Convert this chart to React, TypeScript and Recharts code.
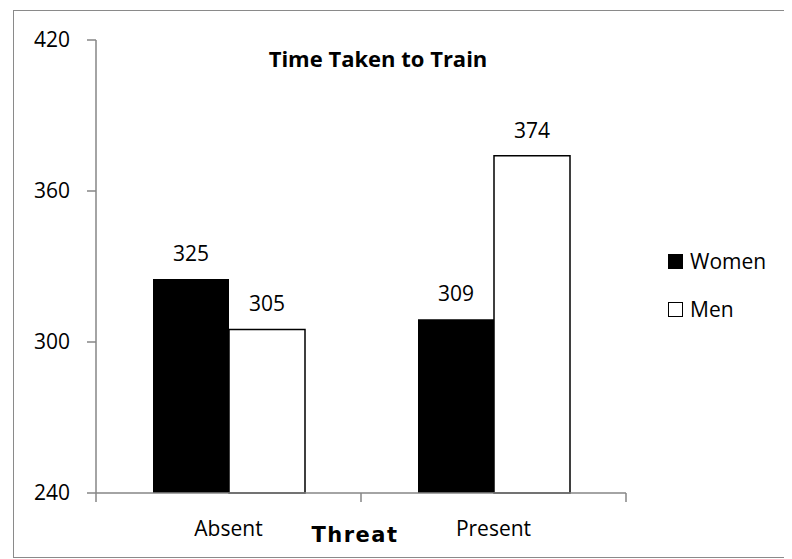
import React from 'react';
import { BarChart, Bar, XAxis, YAxis, LabelList } from 'recharts';

// Mean time taken to train, by threat condition
const categories = ['Absent', 'Present'];
const womenValues = [325, 309];
const menValues = [305, 374];
const seriesNames = ['Women', 'Men'];
const yTicks = [240, 300, 360, 420];
const chartTitle = 'Time Taken to Train';
const xAxisTitle = 'Threat';

const data = categories.map((c, i) => ({
  threat: c,
  Women: womenValues[i],
  Men: menValues[i],
}));

const FONT = '"Open Sans", "Noto Sans", sans-serif';
const AXIS_GREY = '#868686';

// Category labels centred in each band, with tick marks on band boundaries
function CategoryTick(props: any) {
  const { x, y, payload, index, visibleTicksCount } = props;
  const half = payload && payload.offset ? payload.offset : 132.5;
  return (
    <g>
      <line x1={x - half} y1={y} x2={x - half} y2={y + 9} stroke={AXIS_GREY} strokeWidth={1.5} />
      {index === visibleTicksCount - 1 && (
        <line x1={x + half} y1={y} x2={x + half} y2={y + 9} stroke={AXIS_GREY} strokeWidth={1.5} />
      )}
      <text x={x} y={y + 43} textAnchor="middle" fontFamily={FONT} fontSize={21} fill="#000">
        {payload.value}
      </text>
    </g>
  );
}

function LegendBox() {
  return (
    <div
      style={{
        position: 'absolute',
        left: 660,
        top: 229,
        fontFamily: FONT,
        fontSize: 21,
        color: '#000',
        lineHeight: '24px',
      }}
    >
      {seriesNames.map((name, i) => (
        <div key={name} style={{ display: 'flex', alignItems: 'center', height: 48 }}>
          <span
            style={{
              display: 'inline-block',
              width: 15,
              height: 15,
              boxSizing: 'border-box',
              background: i === 0 ? '#000' : '#fff',
              border: '1.5px solid #000',
              marginRight: 7,
            }}
          />
          <span>{name}</span>
        </div>
      ))}
    </div>
  );
}

export default function App() {
  return (
    <div style={{ position: 'relative', width: 784, height: 551, overflow: 'hidden', background: '#fff' }}>
      <div
        style={{
          position: 'absolute',
          left: 5,
          top: 2,
          width: 820,
          height: 548,
          boxSizing: 'border-box',
          border: '1px solid #8a8a8a',
        }}
      />
      <div style={{ position: 'absolute', left: 0, top: 0 }}>
        <BarChart
          width={784}
          height={551}
          data={data}
          margin={{ top: 32, right: 166, bottom: 0, left: 0 }}
          barGap={0}
        >
          <XAxis
            dataKey="threat"
            height={66}
            stroke={AXIS_GREY}
            strokeWidth={1.5}
            tickLine={false}
            tickSize={0}
            tickMargin={0}
            tick={<CategoryTick />}
            interval={0}
          />
          <YAxis
            width={88}
            domain={[240, 420]}
            ticks={yTicks}
            interval={0}
            stroke={AXIS_GREY}
            strokeWidth={1.5}
            tickSize={9}
            tickMargin={17}
            tick={{ fill: '#000', fontSize: 21, fontFamily: FONT }}
          />
          <Bar dataKey="Women" fill="#000" barSize={76} isAnimationActive={false}>
            <LabelList dataKey="Women" position="top" offset={18} fill="#000" fontFamily={FONT} fontSize={21} />
          </Bar>
          <Bar dataKey="Men" fill="#fff" stroke="#000" strokeWidth={1.5} barSize={76} isAnimationActive={false}>
            <LabelList dataKey="Men" position="top" offset={18} fill="#000" fontFamily={FONT} fontSize={21} />
          </Bar>
          <text x={370} y={59} textAnchor="middle" fontFamily={FONT} fontWeight="bold" fontSize={22} fill="#000">
            {chartTitle}
          </text>
          <text
            x={347}
            y={534}
            textAnchor="middle"
            fontFamily='"DejaVu Sans", Verdana, sans-serif'
            fontWeight="bold"
            fontSize={21}
            letterSpacing={1.5}
            fill="#000"
          >
            {xAxisTitle}
          </text>
        </BarChart>
      </div>
      <LegendBox />
    </div>
  );
}
